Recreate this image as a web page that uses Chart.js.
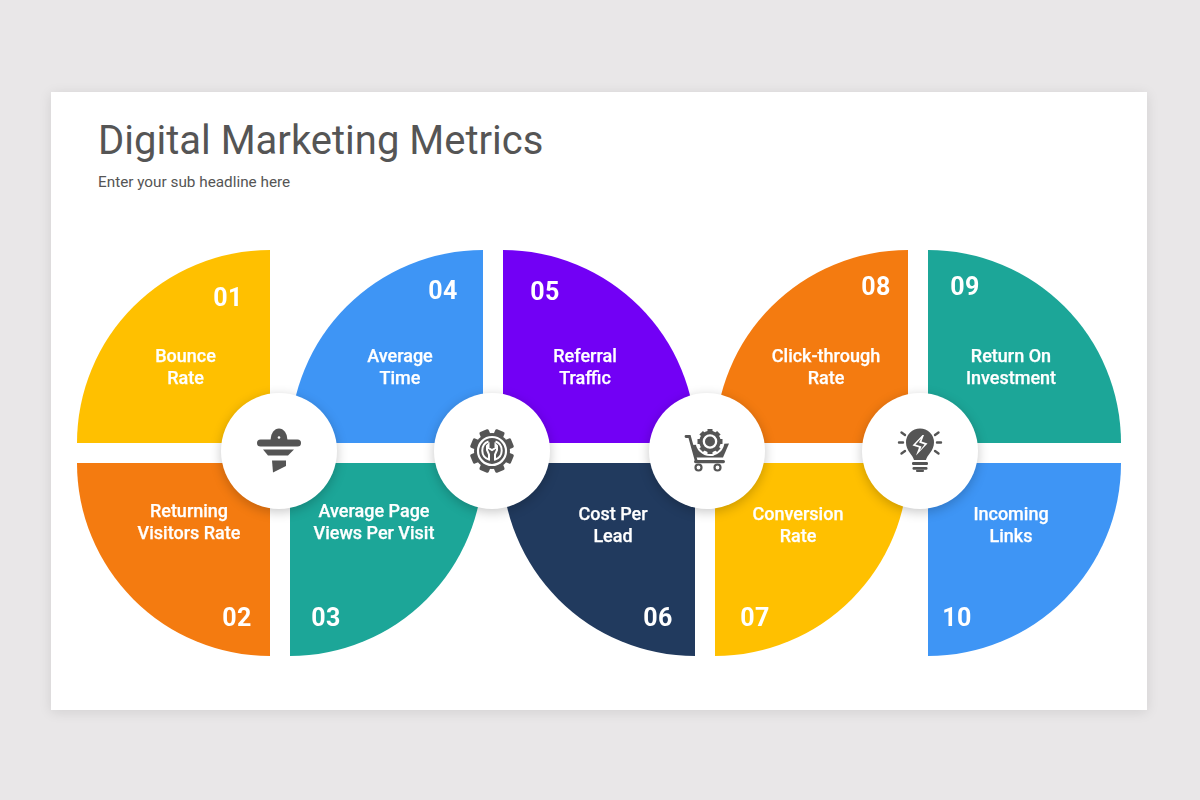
<!DOCTYPE html>
<html>
<head>
<meta charset="utf-8">
<title>Digital Marketing Metrics</title>
<script src="https://cdn.jsdelivr.net/npm/chart.js@4/dist/chart.umd.min.js"></script>
<style>
html, body { margin: 0; padding: 0; }
body { width: 1200px; height: 800px; background: #e9e7e8; overflow: hidden; position: relative; font-family: Roboto, sans-serif; }
#card { position: absolute; left: 51px; top: 92px; width: 1096px; height: 618px; background: #fff; box-shadow: 0 2px 12px rgba(0,0,0,.10); }
h1 { position: absolute; left: 98px; top: 116px; margin: 0; font-size: 40px; line-height: 50px; font-weight: 400; color: #555; white-space: nowrap; }
h2 { position: absolute; left: 98px; top: 173px; margin: 0; font-size: 15.3px; line-height: 18px; font-weight: 400; color: #555; white-space: nowrap; }
.pie { position: absolute; width: 440px; height: 440px; }
.hub { position: absolute; width: 116px; height: 116px; border-radius: 50%; background: #fff; box-shadow: 0 3px 12px rgba(0,0,0,.22); }
.hub svg { position: absolute; left: 0; top: 0; }
.name { position: absolute; width: 170px; margin-left: -85px; text-align: center; color: #fff; font-size: 18px; line-height: 22px; font-weight: 500; -webkit-text-stroke: .25px #fff; }
.num { position: absolute; width: 60px; margin-left: -30px; text-align: center; color: #fff; font-size: 25px; line-height: 30px; font-weight: 700; letter-spacing: .5px; }
</style>
</head>
<body>
<div id="card"></div>
<h1>Digital Marketing Metrics</h1>
<h2>Enter your sub headline here</h2>
<script>
// colours
const yellow = '#ffc000', orange = '#f47b10', teal = '#1ca698', blue = '#3e95f5', purple = '#7200f5', navy = '#213a5e', none = 'rgba(0,0,0,0)';

// every metric takes one equal quarter of its circle
// slice order in a pie: top right, bottom right, bottom left, top left
const quarterValues = [1, 1, 1, 1];
const pieOneColors = [none, teal, orange, yellow];
const pieTwoColors = [purple, none, none, blue];
const pieThreeColors = [none, yellow, navy, none];
const pieFourColors = [teal, blue, none, orange];

const metricIds = ['01', '02', '03', '04', '05', '06', '07', '08', '09', '10'];
const metricNames = [
    'Bounce<br>Rate', 'Returning<br>Visitors Rate', 'Average Page<br>Views Per Visit',
    'Average<br>Time', 'Referral<br>Traffic', 'Cost Per<br>Lead',
    'Conversion<br>Rate', 'Click-through<br>Rate', 'Return On<br>Investment', 'Incoming<br>Links'
];

// layout, in page pixels
const pieCenters = [[280, 453], [492.5, 453], [705, 453], [918, 453]];
const hubCenters = [[279, 450.5], [492, 450.5], [706.5, 450.5], [919.5, 450.5]];
const nameCenters = [[185.5, 366.5], [189, 521.5], [374, 521.5], [400, 366.5], [585, 366.5], [613, 524.5], [798, 524.5], [826, 366.5], [1011, 366.5], [1011, 524.5]];
const idCenters = [[228, 298], [237, 618], [326, 618], [443, 291], [545, 292], [658, 618], [755, 618], [876, 287], [965, 287], [957, 618]];

const pieColors = [pieOneColors, pieTwoColors, pieThreeColors, pieFourColors];

pieColors.forEach(function (colors, i) {
    let canvas = document.createElement('canvas');
    canvas.className = 'pie';
    canvas.width = 440;
    canvas.height = 440;
    canvas.style.left = (pieCenters[i][0] - 220) + 'px';
    canvas.style.top = (pieCenters[i][1] - 220) + 'px';
    document.body.appendChild(canvas);

    new Chart(canvas.getContext('2d'), {
        type: 'pie',
        data: {
            labels: ['top right', 'bottom right', 'bottom left', 'top left'],
            datasets: [{
                data: quarterValues,
                backgroundColor: colors,
                borderWidth: 0,
                // Chart.js moves a slice by a quarter of this, so about 14px along the diagonal
                offset: 56.57,
                hoverOffset: 0,
            }],
        },
        options: {
            responsive: false,
            animation: false,
            radius: 193,
            plugins: { legend: { display: false }, tooltip: { enabled: false } },
        },
    });
});

metricNames.forEach(function (name, i) {
    let el = document.createElement('div');
    el.className = 'name';
    el.innerHTML = name;
    el.style.left = nameCenters[i][0] + 'px';
    el.style.top = (nameCenters[i][1] - 22) + 'px';
    document.body.appendChild(el);

    let id = document.createElement('div');
    id.className = 'num';
    id.textContent = metricIds[i];
    id.style.left = idCenters[i][0] + 'px';
    id.style.top = (idCenters[i][1] - 15) + 'px';
    document.body.appendChild(id);
});

// icons, drawn around the middle of each white hub (58,58)
const icons = [
    // funnel
    '<g transform="translate(58,58)" fill="#555">' +
    '<path d="M-8.5 -11A8.5 11.5 0 0 1 8.5 -11z"/><rect x="-22" y="-11.5" width="44" height="7" rx="3.5"/>' +
    '<circle cx="0" cy="-13.5" r="1.3" fill="#fff"/>' +
    '<path d="M-16 -1.5H15L9 4.5H-11z"/><path d="M-7 9.5H7V15L-6 21.5z"/></g>',
    // gear with wrench
    '<g transform="translate(58,58)">' +
    '<g fill="#555"><circle r="18"/>' +
    [0, 45, 90, 135, 180, 225, 270, 315].map(a => '<rect x="-5" y="-22" width="10" height="7" rx="1.5" transform="rotate(' + (a + 22.5) + ')"/>').join('') + '</g>' +
    '<circle r="14" fill="none" stroke="#fff" stroke-width="2.2"/>' +
    '<path d="M-3.5 -9.5A9.5 9.5 0 0 0 -3 8.5V3.5L-5 -1V-5L-3.5 -6.5V-3L0 -1L3.5 -3V-6.5L5 -5V-1L3 3.5V8.5A9.5 9.5 0 0 0 3.5 -9.5" fill="none" stroke="#fff" stroke-width="2"/></g>',
    // cart with gear
    '<g transform="translate(58,58)" fill="#555">' +
    '<path d="M-21 -14.5H-17.5L-11 9" fill="none" stroke="#555" stroke-width="2.8" stroke-linecap="round"/>' +
    '<path d="M-16 -6L22 -7.5L16 6.5H-12z"/>' +
    '<rect x="-13" y="9" width="31" height="3.2" rx="1.6"/>' +
    '<circle cx="-8.5" cy="16.5" r="3" fill="#fff" stroke="#555" stroke-width="2.2"/><circle cx="10.5" cy="16.5" r="3" fill="#fff" stroke="#555" stroke-width="2.2"/>' +
    '<circle cx="3" cy="-9.5" r="14.5" fill="#fff"/>' +
    '<circle cx="3" cy="-9.5" r="9" fill="none" stroke="#555" stroke-width="3.4"/>' +
    [0, 45, 90, 135, 180, 225, 270, 315].map(a => '<rect x="0.5" y="-22" width="5" height="4.5" transform="rotate(' + a + ' 3 -9.5)"/>').join('') +
    '<circle cx="3" cy="-9.5" r="5"/></g>',
    // light bulb
    '<g transform="translate(58,58)" fill="#555">' +
    '<path d="M-6 9C-7 4 -14 0 -14 -8.5A14 14 0 0 1 14 -8.5C14 0 7 4 6 9z"/>' +
    '<rect x="-8" y="11" width="16" height="3" rx="1.2"/><rect x="-7.5" y="16" width="15" height="2.8" rx="1.2"/><rect x="-4" y="18.8" width="8" height="2.2" rx="1"/>' +
    '<path d="M2.5 -16L-7.5 -5.5L-1 -3.5L-4 4.5L7.5 -7.5L1.5 -9.5L4 -16Z" fill="#fff"/>' +
    '<path d="M1 -12.5L-4.5 -6.5L1.5 -4.5L0 -0.5L4.5 -6.5L-1 -8.5Z" fill="#555"/>' +
    '<g stroke="#555" stroke-width="2.4" stroke-linecap="round">' +
    '<path d="M-21 -8.5H-17M17 -8.5H21M-18.5 -18.5L-15 -16M18.5 -18.5L15 -16M-18.5 2.5L-15 0M18.5 2.5L15 0"/></g></g>',
];

hubCenters.forEach(function (center, i) {
    let hub = document.createElement('div');
    hub.className = 'hub';
    hub.style.left = (center[0] - 58) + 'px';
    hub.style.top = (center[1] - 58) + 'px';
    hub.innerHTML = '<svg width="116" height="116" viewBox="0 0 116 116">' + icons[i] + '</svg>';
    document.body.appendChild(hub);
});
</script>
</body>
</html>
